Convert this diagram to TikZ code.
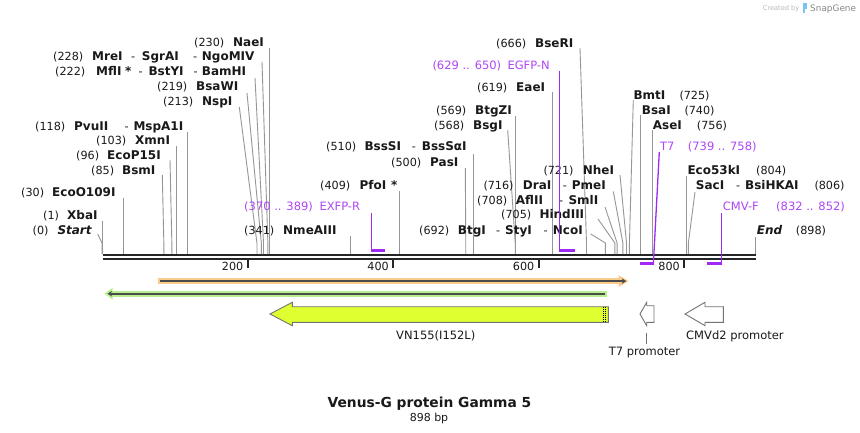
\documentclass[tikz,border=0pt]{standalone}
\usepackage{fontspec}
\setmainfont{DejaVu Sans}
\usetikzlibrary{arrows.meta}
\definecolor{leadc}{RGB}{150,150,150}
\definecolor{primc}{RGB}{160,40,245}
\definecolor{primt}{RGB}{175,70,245}
\definecolor{bb}{RGB}{38,38,38}
\definecolor{txt}{RGB}{25,25,25}
\definecolor{orangeb}{RGB}{250,203,138}
\definecolor{greenb}{RGB}{182,240,142}
\definecolor{darkc}{RGB}{75,75,75}
\definecolor{vnfill}{RGB}{224,255,48}
\definecolor{outl}{RGB}{115,115,115}
\definecolor{wmgray}{RGB}{185,185,185}
\definecolor{wmdark}{RGB}{135,135,135}
\definecolor{logoc}{RGB}{120,195,240}
% leader from a label point to a site on the backbone
\newcommand\site[4]{%
  \coordinate (a#1) at (#2,#3);
  \coordinate (b#1) at ({102+0.7275*#4},243);
  \coordinate (c#1) at ({102+0.7275*#4},254);
  \draw[lead] (a#1) -- (b#1) -- (c#1);}
\newcommand\sitev[3]{%
  \coordinate (a#1) at ({102+0.7275*#3},#2);
  \coordinate (c#1) at ({102+0.7275*#3},254);
  \draw[lead] (a#1) -- (c#1);}
\begin{document}
\begin{tikzpicture}[x=1pt,y=-1pt,
  num/.style={anchor=base west, inner sep=0pt, font=\fontsize{11.2}{13}\selectfont, text=txt},
  enz/.style={anchor=base west, inner sep=0pt, font=\fontsize{12}{13}\selectfont\bfseries, text=txt},
  enzi/.style={enz, font=\fontsize{12}{13}\selectfont\bfseries\itshape},
  ptxt/.style={anchor=base west, inner sep=0pt, font=\fontsize{11.5}{13}\selectfont, text=primt},
  flab/.style={anchor=base, inner sep=0pt, font=\fontsize{11.5}{13}\selectfont, text=txt},
  lead/.style={draw=leadc, line width=0.9pt},
  prim/.style={draw=primc, line width=1.3pt},
  primh/.style={draw=primc, line width=2.4pt},
  bbline/.style={draw=bb, line width=2.5pt},
  tickm/.style={draw=bb, line width=2pt},
  farrow/.style={draw=outl, line width=0.9pt, line join=miter}]
\useasboundingbox (0,0) rectangle (860,433);
\fill[white] (0,0) rectangle (860,433);

% watermark
\node[anchor=base west, inner sep=0pt, font=\fontsize{6.6}{8}\selectfont, text=wmgray] (wm1) at (762.7,10.8) {Created by};
\fill[logoc] (803,3.2) rectangle (806.7,9.2);
\fill[logoc] (803,9.2) rectangle (804.6,12.6);
\node[anchor=base west, inner sep=0pt, font=\fontsize{8.9}{10}\selectfont, text=wmdark] (wm2) at (810,11.5) {SnapGene};

% backbone
\draw[bbline] (102.7,255.2) -- (756.2,255.2);
\draw[bbline] (102.7,258.8) -- (756.2,258.8);
\foreach \v/\xx in {200/247.5,400/393,600/538.5,800/684}{
  \draw[tickm] (\xx,259) -- (\xx,268);
  \node[num, anchor=base east] (t\v) at (\xx-4,270) {\v};
}

% leaders
\sitev{230}{48}{230}
\site{228}{262}{62}{228}
\site{222}{255}{78}{222}
\site{219}{247}{93}{219}
\site{213}{239.3}{107}{213}
\sitev{118}{132}{118}
\sitev{103}{146}{103}
\site{96}{170}{160}{96}
\site{85}{162.3}{175}{85}
\sitev{30}{198}{30}
\sitev{1}{221}{1}
\site{0}{97.7}{234}{0}
\sitev{341}{236}{341}
\sitev{409}{191}{409}
\site{500}{465.3}{168}{500}
\sitev{510}{154}{510}
\site{568}{507.7}{130}{568}
\sitev{569}{116}{569}
\sitev{619}{92.5}{619}
\site{666}{580}{48}{666}
\site{692}{590.7}{234}{692}
\site{705}{598}{219}{705}
\site{708}{605}{207}{708}
\site{716}{613.3}{191.5}{716}
\site{721}{620}{175}{721}
\site{725}{633.3}{100}{725}
\sitev{740}{115}{740}
\sitev{756}{130}{756}
\sitev{804}{176}{804}
\site{806}{695}{192}{806}
\sitev{898}{237}{898}

% enzyme labels (left of leader)
\node[num] (n230) at (194,46.5) {(230)}; \node[enz] (e230) at (233,46.5) {NaeI};
\node[num] (n228) at (53,60.2) {(228)}; \node[enz] (e228) at (92,60.2) {MreI};
\node[num] (d228a) at (131,60.2) {-}; \node[enz] (e228b) at (141.7,60.2) {SgrAI};
\node[num] (d228b) at (193,60.2) {-}; \node[enz] (e228c) at (201.7,60.2) {NgoMIV};
\node[num] (n222) at (55,75.9) {(222)}; \node[enz] (e222) at (96,75.9) {MflI};
\node[enz] (s222) at (125,75.9) {*};
\node[num] (d222a) at (138.3,75.9) {-}; \node[enz] (e222b) at (148.3,75.9) {BstYI};
\node[num] (d222b) at (193.3,75.9) {-}; \node[enz] (e222c) at (201.7,75.9) {BamHI};
\node[num] (n219) at (157,90.9) {(219)}; \node[enz] (e219) at (196,90.9) {BsaWI};
\node[num] (n213) at (163,105.9) {(213)}; \node[enz] (e213) at (202,105.9) {NspI};
\node[num] (n118) at (35,130.9) {(118)}; \node[enz] (e118) at (74,130.9) {PvuII};
\node[num] (d118) at (124.3,130.9) {-}; \node[enz] (e118b) at (133.3,130.9) {MspA1I};
\node[num] (n103) at (96,144.2) {(103)}; \node[enz] (e103) at (135,144.2) {XmnI};
\node[num] (n96) at (76,159.2) {(96)}; \node[enz] (e96) at (107,159.2) {EcoP15I};
\node[num] (n85) at (91,174.2) {(85)}; \node[enz] (e85) at (122,174.2) {BsmI};
\node[num] (n30) at (21,196.5) {(30)}; \node[enz] (e30) at (52,196.5) {EcoO109I};
\node[num] (n1) at (43,219.2) {(1)}; \node[enz] (e1) at (67,219.2) {XbaI};
\node[num] (n0) at (32.5,234.2) {(0)}; \node[enzi] (e0) at (57.3,234.2) {Start};
\node[num] (n341) at (244,234.2) {(341)}; \node[enz] (e341) at (283,234.2) {NmeAIII};
\node[num] (n409) at (320,189.2) {(409)}; \node[enz] (e409) at (359.3,189.2) {PfoI};
\node[enz] (s409) at (391,189.2) {*};
\node[num] (n500) at (391,166.5) {(500)}; \node[enz] (e500) at (430,166.5) {PasI};
\node[num] (n510) at (326,150.9) {(510)}; \node[enz] (e510) at (364.3,150.9) {BssSI};
\node[num] (d510) at (411.7,150.9) {-}; \node[enz] (e510b) at (421.7,150.9) {BssSαI};
\node[num] (n568) at (434,129.2) {(568)}; \node[enz] (e568) at (473,129.2) {BsgI};
\node[num] (n569) at (436,114.2) {(569)}; \node[enz] (e569) at (475,114.2) {BtgZI};
\node[num] (n619) at (477,91.5) {(619)}; \node[enz] (e619) at (516,91.5) {EaeI};
\node[num] (n666) at (496,47.5) {(666)}; \node[enz] (e666) at (535,47.5) {BseRI};
\node[num] (n692) at (419,234.2) {(692)}; \node[enz] (e692) at (457.7,234.2) {BtgI};
\node[num] (d692a) at (496,234.2) {-}; \node[enz] (e692b) at (505,234.2) {StyI};
\node[num] (d692b) at (543.3,234.2) {-}; \node[enz] (e692c) at (552.7,234.2) {NcoI};
\node[num] (n705) at (501,218.5) {(705)}; \node[enz] (e705) at (539.3,218.5) {HindIII};
\node[num] (n708) at (477,204.2) {(708)}; \node[enz] (e708) at (515.7,204.2) {AflII};
\node[num] (d708) at (559,204.2) {-}; \node[enz] (e708b) at (568.3,204.2) {SmlI};
\node[num] (n716) at (483.3,189.2) {(716)}; \node[enz] (e716) at (522.7,189.2) {DraI};
\node[num] (d716) at (562.7,189.2) {-}; \node[enz] (e716b) at (571.7,189.2) {PmeI};
\node[num] (n721) at (543.3,174.2) {(721)}; \node[enz] (e721) at (582.7,174.2) {NheI};

% enzyme labels (right of leader)
\node[enz] (e725) at (633.3,99.2) {BmtI}; \node[num] (n725) at (679.3,99.2) {(725)};
\node[enz] (e740) at (641.7,114.2) {BsaI}; \node[num] (n740) at (684.3,114.2) {(740)};
\node[enz] (e756) at (652.7,129.2) {AseI}; \node[num] (n756) at (696.7,129.2) {(756)};
\node[enz] (e804) at (687.3,174.2) {Eco53kI}; \node[num] (n804) at (756,174.2) {(804)};
\node[enz] (e806) at (695.7,189.2) {SacI}; \node[num] (d806) at (736,189.2) {-};
\node[enz] (e806b) at (745,189.2) {BsiHKAI}; \node[num] (n806) at (814.3,189.2) {(806)};
\node[enzi] (e898) at (756.7,234.2) {End}; \node[num] (n898) at (795.7,234.2) {(898)};

% primers
\node[ptxt] (pr1n) at (244,210.9) {(370 .. 389)}; \node[ptxt] (pr1) at (319.3,210.9) {EXFP-R};
\coordinate (p1a) at (371.2,212.7); \coordinate (p1b) at (371.2,250.3); \coordinate (p1c) at (385,250.3);
\draw[prim] (p1a) -- (p1b); \draw[primh] ([xshift=-0.65pt]p1b) -- (p1c);
\node[ptxt] (pr2n) at (432.3,69.2) {(629 .. 650)}; \node[ptxt] (pr2) at (507.3,69.2) {EGFP-N};
\coordinate (p2a) at (559.6,70.7); \coordinate (p2b) at (559.6,250.3); \coordinate (p2c) at (574.9,250.3);
\draw[prim] (p2a) -- (p2b); \draw[primh] ([xshift=-0.65pt]p2b) -- (p2c);
\node[ptxt] (pr3) at (660,150.9) {T7}; \node[ptxt] (pr3n) at (687.7,150.9) {(739 .. 758)};
\coordinate (p3a) at (659.3,152); \coordinate (p3b) at (653.4,263.3); \coordinate (p3c) at (639.6,263.3);
\draw[prim] (p3a) -- (p3b); \draw[primh] ([xshift=0.65pt]p3b) -- (p3c);
\node[ptxt] (pr4) at (722.7,210.9) {CMV-F}; \node[ptxt] (pr4n) at (776,210.9) {(832 .. 852)};
\coordinate (p4a) at (721.8,212.7); \coordinate (p4b) at (721.8,263.3); \coordinate (p4c) at (707.3,263.3);
\draw[prim] (p4a) -- (p4b); \draw[primh] ([xshift=0.65pt]p4b) -- (p4c);

% orange feature (forward)
\draw[orangeb, line width=5.7pt] (157.7,281.1) -- (621,281.1);
\fill[orangeb] (618.5,275.2) -- (628.6,281.1) -- (618.5,287) -- cycle;
\draw[darkc, line width=1.8pt, -{Stealth[length=4.5pt,width=5.5pt]}] (159.8,281.1) -- (626.3,281.1);

% green feature (reverse)
\draw[greenb, line width=6pt] (111,293.7) -- (606.8,293.7);
\fill[greenb] (112.5,287.8) -- (104.6,293.7) -- (112.5,299.6) -- cycle;
\draw[darkc, line width=1.8pt, -{Stealth[length=4.5pt,width=5.5pt]}] (605,293.7) -- (107.5,293.7);

% VN155 CDS
\draw[farrow, fill=vnfill] (270,314) -- (292.3,302.3) -- (292.3,306.7) -- (608.3,306.7)
  -- (608.3,322.3) -- (292.3,322.3) -- (292.3,325.7) -- cycle;
\draw[black, line width=0.7pt, dash pattern=on 1pt off 1pt] (603.6,307.3) -- (603.6,321.8);
\draw[black, line width=0.7pt, dash pattern=on 1pt off 1pt] (605.8,307.3) -- (605.8,321.8);
\node[flab] (vn) at (435.8,339.6) {VN155(I152L)};

% T7 promoter
\draw[farrow, fill=white] (640,314) -- (646.7,302.3) -- (646.7,305.7) -- (654,305.7)
  -- (654,322.3) -- (646.7,322.3) -- (646.7,325.7) -- cycle;
\coordinate (t7a) at (646.7,332.7); \coordinate (t7b) at (646.7,344);
\draw[lead, draw=outl, line width=0.8pt] (t7a) -- (t7b);
\node[flab] (t7p) at (644.5,355.3) {T7 promoter};

% CMVd2 promoter
\draw[farrow, fill=white] (685,314) -- (705,302.3) -- (705,306.7) -- (723.3,306.7)
  -- (723.3,322.3) -- (705,322.3) -- (705,325.7) -- cycle;
\node[flab, anchor=base west] (cmv) at (686,339.6) {CMVd2 promoter};

% title
\node[anchor=base, inner sep=0pt, font=\fontsize{13.8}{16}\selectfont\bfseries, text=txt] (title) at (429.5,407.3) {Venus-G protein Gamma 5};
\node[anchor=base, inner sep=0pt, font=\fontsize{11}{13}\selectfont, text=txt] (len) at (429,421) {898 bp};
\end{tikzpicture}
\end{document}
